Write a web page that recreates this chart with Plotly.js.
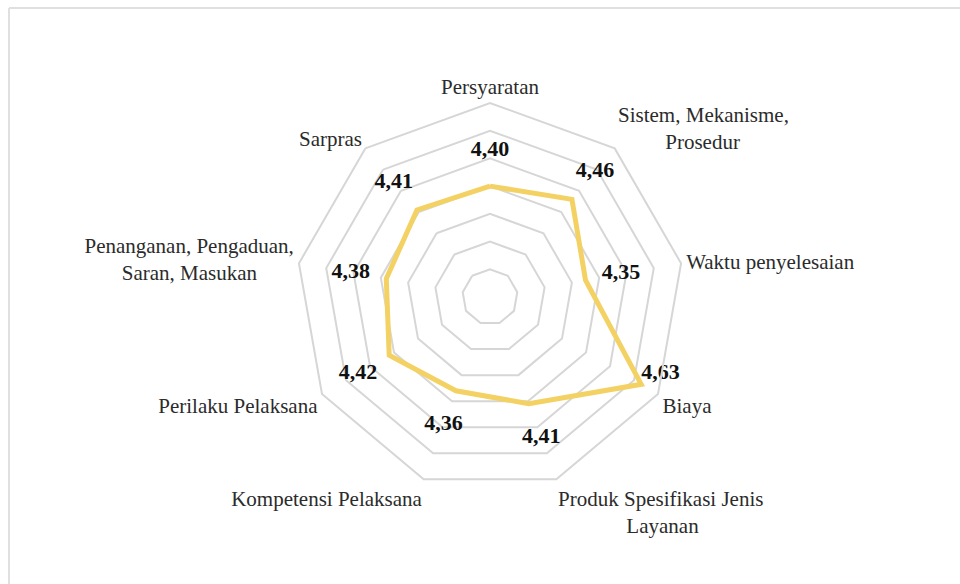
<!DOCTYPE html>
<html>
<head>
<meta charset="utf-8">
<script src="https://cdn.plot.ly/plotly-3.0.1.min.js"></script>
<style>
html,body{margin:0;padding:0;background:#fff;}
#chart{width:960px;height:584px;}
</style>
</head>
<body>
<div id="chart"></div>
<script>
const NB = '\u00A0';
const categories = [
  "Persyaratan",
  "Sistem, Mekanisme,<br>" + NB.repeat(9) + "Prosedur",
  "Waktu penyelesaian",
  "Biaya",
  "Produk Spesifikasi Jenis<br>" + NB.repeat(13) + "Layanan",
  "Kompetensi Pelaksana",
  "Perilaku Pelaksana",
  "Penanganan, Pengaduan,<br>Saran, Masukan" + NB.repeat(7),
  "Sarpras"
];
const values = [4.40, 4.46, 4.35, 4.63, 4.41, 4.36, 4.42, 4.38, 4.41];
const radialRange = [4.0, 4.7];

const labelOffset = 0.13;
const fitsOutside = values.map(v => v + labelOffset < radialRange[1]);
const labelR = values.map((v, i) => fitsOutside[i] ? v + labelOffset : v);
const labelPos = values.map((v, i) => fitsOutside[i] ? 'middle center' : 'top right');
const labelText = values.map(v => v.toFixed(2).replace('.', ','));

const serif = "Liberation Serif";

const traces = [
  {
    type: 'scatterpolar',
    r: values.concat([values[0]]),
    theta: categories.concat([categories[0]]),
    mode: 'lines',
    line: {color: '#F3D163', width: 5},
    hoverinfo: 'skip',
    showlegend: false
  },
  {
    type: 'scatterpolar',
    r: labelR,
    theta: categories,
    mode: 'text',
    text: labelText,
    textposition: labelPos,
    textfont: {family: serif, size: 22, color: '#111111', weight: 'bold'},
    cliponaxis: false,
    hoverinfo: 'skip',
    showlegend: false
  }
];

const layout = {
  width: 960,
  height: 584,
  margin: {l: 0, r: 0, t: 0, b: 0},
  paper_bgcolor: '#ffffff',
  showlegend: false,
  font: {family: serif, color: '#333333'},
  polar: {
    domain: {x: [296/960, 684/960], y: [93/584, 481/584]},
    gridshape: 'linear',
    bgcolor: 'rgba(0,0,0,0)',
    radialaxis: {
      range: radialRange,
      dtick: 0.1,
      tick0: 4.0,
      showticklabels: false,
      ticks: '',
      showline: false,
      gridcolor: '#d6d6d6',
      gridwidth: 2
    },
    angularaxis: {
      rotation: 90,
      direction: 'clockwise',
      showgrid: false,
      ticks: '',
      linecolor: '#d6d6d6',
      linewidth: 2,
      tickfont: {family: serif, size: 21, color: '#2b2b2b'}
    }
  },
  shapes: [
    {type: 'line', xref: 'paper', yref: 'paper', x0: 9/960, x1: 9/960, y0: 0, y1: 576/584,
     line: {color: '#e0e0e0', width: 2}},
    {type: 'line', xref: 'paper', yref: 'paper', x0: 9/960, x1: 1, y0: 576/584, y1: 576/584,
     line: {color: '#e0e0e0', width: 2}}
  ]
};

Plotly.newPlot('chart', traces, layout, {staticPlot: true, displayModeBar: false});
</script>
</body>
</html>
